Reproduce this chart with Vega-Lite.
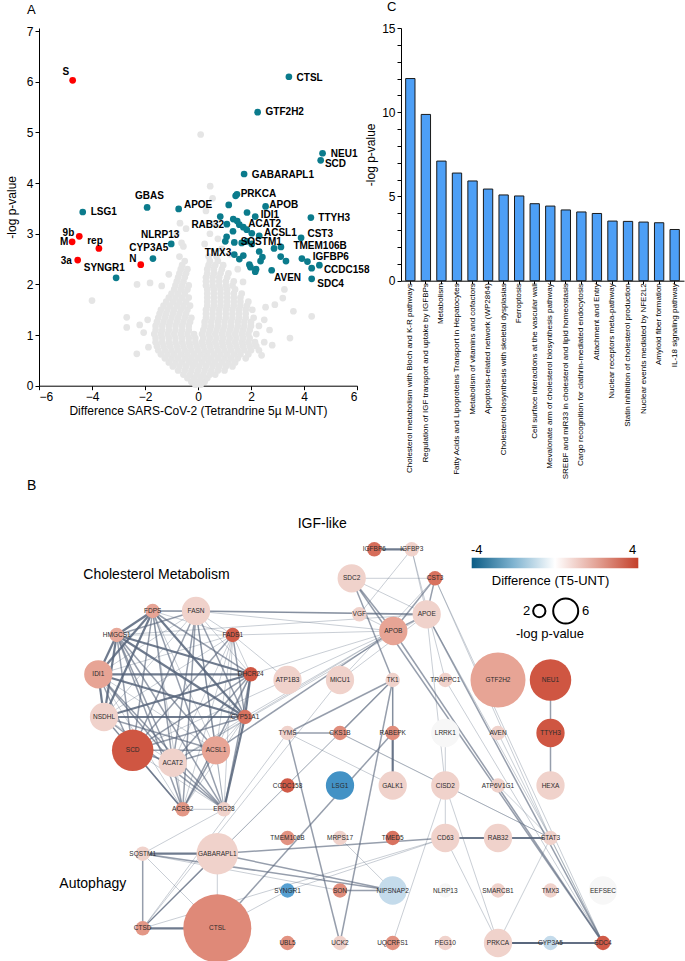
{
"$schema":"https://vega.github.io/schema/vega-lite/v6.json",
"padding":{"left":5,"top":1,"right":0,"bottom":0},
"background":"white",
"spacing":0,
"config":{"font":"Liberation Sans","view":{"stroke":null},
 "axis":{"domainColor":"#000","tickColor":"#000","labelColor":"#000","titleColor":"#000","labelFontSize":12,"titleFontSize":12,"titleFontWeight":"normal","tickSize":4,"grid":false,"labelPadding":2}},
"datasets":{
"ns":[
{"x":-0.1,"y":0.02},{"x":0.1,"y":0.02},
{"x":-0.25,"y":0.08},{"x":0,"y":0.08},{"x":0.25,"y":0.08},
{"x":-0.4,"y":0.15},{"x":-0.15,"y":0.15},{"x":0.1,"y":0.15},{"x":0.35,"y":0.15},
{"x":-0.55,"y":0.22},{"x":-0.3,"y":0.22},{"x":-0.05,"y":0.22},{"x":0.2,"y":0.22},{"x":0.45,"y":0.22},{"x":0.65,"y":0.22},
{"x":-0.75,"y":0.3},{"x":-0.5,"y":0.3},{"x":-0.25,"y":0.3},{"x":0,"y":0.3},{"x":0.25,"y":0.3},{"x":0.5,"y":0.3},{"x":0.75,"y":0.3},{"x":1.0,"y":0.3},
{"x":-0.95,"y":0.38},{"x":-0.7,"y":0.38},{"x":-0.45,"y":0.38},{"x":-0.2,"y":0.38},{"x":0.05,"y":0.38},{"x":0.3,"y":0.38},{"x":0.55,"y":0.38},{"x":0.8,"y":0.38},{"x":1.05,"y":0.38},{"x":1.3,"y":0.38},
{"x":-1.1,"y":0.46},{"x":-0.85,"y":0.46},{"x":-0.6,"y":0.46},{"x":-0.35,"y":0.46},{"x":-0.1,"y":0.46},{"x":0.15,"y":0.46},{"x":0.4,"y":0.46},{"x":0.65,"y":0.46},{"x":0.9,"y":0.46},{"x":1.15,"y":0.46},{"x":1.4,"y":0.46},
{"x":-1.25,"y":0.54},{"x":-1.0,"y":0.54},{"x":-0.75,"y":0.54},{"x":-0.5,"y":0.54},{"x":-0.25,"y":0.54},{"x":0,"y":0.54},{"x":0.25,"y":0.54},{"x":0.5,"y":0.54},{"x":0.75,"y":0.54},{"x":1.0,"y":0.54},{"x":1.25,"y":0.54},{"x":1.5,"y":0.54},{"x":1.8,"y":0.54},
{"x":-1.4,"y":0.62},{"x":-1.15,"y":0.62},{"x":-0.9,"y":0.62},{"x":-0.65,"y":0.62},{"x":-0.4,"y":0.62},{"x":-0.15,"y":0.62},{"x":0.1,"y":0.62},{"x":0.35,"y":0.62},{"x":0.6,"y":0.62},{"x":0.85,"y":0.62},{"x":1.1,"y":0.62},{"x":1.35,"y":0.62},{"x":1.6,"y":0.62},{"x":1.9,"y":0.62},
{"x":-1.5,"y":0.7},{"x":-1.25,"y":0.7},{"x":-1.0,"y":0.7},{"x":-0.75,"y":0.7},{"x":-0.5,"y":0.7},{"x":-0.25,"y":0.7},{"x":0,"y":0.7},{"x":0.25,"y":0.7},{"x":0.5,"y":0.7},{"x":0.75,"y":0.7},{"x":1.0,"y":0.7},{"x":1.25,"y":0.7},{"x":1.5,"y":0.7},{"x":1.75,"y":0.7},{"x":2.0,"y":0.7},{"x":2.3,"y":0.7},
{"x":-1.55,"y":0.78},{"x":-1.3,"y":0.78},{"x":-1.05,"y":0.78},{"x":-0.8,"y":0.78},{"x":-0.55,"y":0.78},{"x":-0.3,"y":0.78},{"x":-0.05,"y":0.78},{"x":0.2,"y":0.78},{"x":0.45,"y":0.78},{"x":0.7,"y":0.78},{"x":0.95,"y":0.78},{"x":1.2,"y":0.78},{"x":1.45,"y":0.78},{"x":1.7,"y":0.78},{"x":1.95,"y":0.78},{"x":2.2,"y":0.78},
{"x":-1.6,"y":0.86},{"x":-1.35,"y":0.86},{"x":-1.1,"y":0.86},{"x":-0.85,"y":0.86},{"x":-0.6,"y":0.86},{"x":-0.35,"y":0.86},{"x":-0.1,"y":0.86},{"x":0.15,"y":0.86},{"x":0.4,"y":0.86},{"x":0.65,"y":0.86},{"x":0.9,"y":0.86},{"x":1.15,"y":0.86},{"x":1.4,"y":0.86},{"x":1.65,"y":0.86},{"x":1.9,"y":0.86},{"x":2.15,"y":0.86},{"x":2.5,"y":0.86},
{"x":-1.6,"y":0.94},{"x":-1.35,"y":0.94},{"x":-1.1,"y":0.94},{"x":-0.85,"y":0.94},{"x":-0.6,"y":0.94},{"x":-0.35,"y":0.94},{"x":-0.1,"y":0.94},{"x":0.2,"y":0.94},{"x":0.45,"y":0.94},{"x":0.7,"y":0.94},{"x":0.95,"y":0.94},{"x":1.2,"y":0.94},{"x":1.45,"y":0.94},{"x":1.7,"y":0.94},{"x":1.95,"y":0.94},
{"x":-1.65,"y":1.02},{"x":-1.4,"y":1.02},{"x":-1.15,"y":1.02},{"x":-0.9,"y":1.02},{"x":-0.65,"y":1.02},{"x":-0.4,"y":1.02},{"x":-0.15,"y":1.02},{"x":0.15,"y":1.02},{"x":0.4,"y":1.02},{"x":0.65,"y":1.02},{"x":0.9,"y":1.02},{"x":1.15,"y":1.02},{"x":1.4,"y":1.02},{"x":1.65,"y":1.02},{"x":1.9,"y":1.02},{"x":2.2,"y":1.02},
{"x":-1.6,"y":1.1},{"x":-1.35,"y":1.1},{"x":-1.1,"y":1.1},{"x":-0.85,"y":1.1},{"x":-0.6,"y":1.1},{"x":-0.35,"y":1.1},{"x":0.2,"y":1.1},{"x":0.45,"y":1.1},{"x":0.7,"y":1.1},{"x":0.95,"y":1.1},{"x":1.2,"y":1.1},{"x":1.45,"y":1.1},{"x":1.7,"y":1.1},{"x":1.95,"y":1.1},
{"x":-1.6,"y":1.18},{"x":-1.35,"y":1.18},{"x":-1.1,"y":1.18},{"x":-0.85,"y":1.18},{"x":-0.6,"y":1.18},{"x":-0.35,"y":1.18},{"x":0.25,"y":1.18},{"x":0.5,"y":1.18},{"x":0.75,"y":1.18},{"x":1.0,"y":1.18},{"x":1.25,"y":1.18},{"x":1.5,"y":1.18},{"x":1.75,"y":1.18},{"x":2.0,"y":1.18},{"x":2.3,"y":1.18},
{"x":-1.55,"y":1.26},{"x":-1.3,"y":1.26},{"x":-1.05,"y":1.26},{"x":-0.8,"y":1.26},{"x":-0.55,"y":1.26},{"x":-0.3,"y":1.26},{"x":0.25,"y":1.26},{"x":0.5,"y":1.26},{"x":0.75,"y":1.26},{"x":1.0,"y":1.26},{"x":1.25,"y":1.26},{"x":1.5,"y":1.26},{"x":1.75,"y":1.26},{"x":2.0,"y":1.26},
{"x":-1.5,"y":1.34},{"x":-1.25,"y":1.34},{"x":-1.0,"y":1.34},{"x":-0.75,"y":1.34},{"x":-0.5,"y":1.34},{"x":-0.25,"y":1.34},{"x":0.3,"y":1.34},{"x":0.55,"y":1.34},{"x":0.8,"y":1.34},{"x":1.05,"y":1.34},{"x":1.3,"y":1.34},{"x":1.55,"y":1.34},{"x":1.8,"y":1.34},{"x":2.1,"y":1.34},
{"x":-1.45,"y":1.42},{"x":-1.2,"y":1.42},{"x":-0.95,"y":1.42},{"x":-0.7,"y":1.42},{"x":-0.45,"y":1.42},{"x":0.3,"y":1.42},{"x":0.55,"y":1.42},{"x":0.8,"y":1.42},{"x":1.05,"y":1.42},{"x":1.3,"y":1.42},{"x":1.55,"y":1.42},{"x":1.8,"y":1.42},
{"x":-1.4,"y":1.5},{"x":-1.15,"y":1.5},{"x":-0.9,"y":1.5},{"x":-0.65,"y":1.5},{"x":-0.4,"y":1.5},{"x":0.3,"y":1.5},{"x":0.55,"y":1.5},{"x":0.8,"y":1.5},{"x":1.05,"y":1.5},{"x":1.3,"y":1.5},{"x":1.55,"y":1.5},{"x":1.8,"y":1.5},{"x":2.05,"y":1.5},
{"x":-1.3,"y":1.58},{"x":-1.05,"y":1.58},{"x":-0.8,"y":1.58},{"x":-0.55,"y":1.58},{"x":-0.3,"y":1.58},{"x":0.35,"y":1.58},{"x":0.6,"y":1.58},{"x":0.85,"y":1.58},{"x":1.1,"y":1.58},{"x":1.35,"y":1.58},{"x":1.6,"y":1.58},{"x":1.85,"y":1.58},
{"x":-1.2,"y":1.66},{"x":-0.95,"y":1.66},{"x":-0.7,"y":1.66},{"x":-0.45,"y":1.66},{"x":0.35,"y":1.66},{"x":0.6,"y":1.66},{"x":0.85,"y":1.66},{"x":1.1,"y":1.66},{"x":1.35,"y":1.66},{"x":1.6,"y":1.66},{"x":1.9,"y":1.66},
{"x":-1.1,"y":1.74},{"x":-0.85,"y":1.74},{"x":-0.6,"y":1.74},{"x":-0.35,"y":1.74},{"x":0.35,"y":1.74},{"x":0.6,"y":1.74},{"x":0.85,"y":1.74},{"x":1.1,"y":1.74},{"x":1.35,"y":1.74},{"x":1.6,"y":1.74},
{"x":-1.0,"y":1.82},{"x":-0.75,"y":1.82},{"x":-0.5,"y":1.82},{"x":0.35,"y":1.82},{"x":0.6,"y":1.82},{"x":0.85,"y":1.82},{"x":1.1,"y":1.82},{"x":1.35,"y":1.82},{"x":1.65,"y":1.82},
{"x":-0.9,"y":1.9},{"x":-0.65,"y":1.9},{"x":-0.4,"y":1.9},{"x":0.35,"y":1.9},{"x":0.6,"y":1.9},{"x":0.85,"y":1.9},{"x":1.1,"y":1.9},{"x":1.4,"y":1.9},
{"x":-0.85,"y":1.98},{"x":-0.6,"y":1.98},{"x":-0.35,"y":1.98},{"x":0.3,"y":1.98},{"x":0.55,"y":1.98},{"x":0.8,"y":1.98},{"x":1.05,"y":1.98},{"x":1.3,"y":1.98},
{"x":-0.8,"y":2.06},{"x":-0.55,"y":2.06},{"x":0.3,"y":2.06},{"x":0.55,"y":2.06},{"x":0.8,"y":2.06},{"x":1.05,"y":2.06},{"x":1.35,"y":2.06},
{"x":-0.75,"y":2.14},{"x":-0.5,"y":2.14},{"x":0.3,"y":2.14},{"x":0.55,"y":2.14},{"x":0.8,"y":2.14},{"x":1.1,"y":2.14},
{"x":-0.7,"y":2.22},{"x":-0.45,"y":2.22},{"x":0.35,"y":2.22},{"x":0.6,"y":2.22},{"x":0.85,"y":2.22},{"x":1.15,"y":2.22},
{"x":-0.65,"y":2.3},{"x":-0.4,"y":2.3},{"x":0.35,"y":2.3},{"x":0.6,"y":2.3},{"x":0.9,"y":2.3},
{"x":-0.6,"y":2.38},{"x":0.4,"y":2.38},{"x":0.65,"y":2.38},{"x":0.95,"y":2.38},
{"x":-0.5,"y":2.46},{"x":0.45,"y":2.46},{"x":0.75,"y":2.46},
{"x":0.4,"y":2.55},{"x":0.7,"y":2.55},
{"x":-4.0,"y":1.68},{"x":-2.69,"y":1.35},{"x":-2.69,"y":1.15},{"x":-2.31,"y":0.63},{"x":-1.87,"y":0.76},{"x":-1.81,"y":2.03},{"x":-1.37,"y":1.97},{"x":-2.2,"y":1.2},{"x":-2.05,"y":1.05},{"x":-1.9,"y":1.3},
{"x":2.5,"y":1.3},{"x":2.7,"y":1.1},{"x":3.6,"y":1.47},{"x":4.29,"y":1.37},{"x":3.47,"y":0.94},{"x":3.26,"y":1.9},{"x":3.2,"y":1.73},{"x":2.8,"y":0.8},{"x":2.4,"y":0.6},{"x":2.9,"y":1.6},{"x":2.55,"y":1.55},
{"x":0.1,"y":4.96},{"x":0.46,"y":3.94},{"x":0.55,"y":3.7},{"x":0.3,"y":3.45},{"x":0.6,"y":3.2},{"x":0.45,"y":3.0},{"x":0.75,"y":2.9},{"x":0.25,"y":2.8},{"x":-0.55,"y":2.75},{"x":-0.45,"y":3.1},{"x":0.9,"y":2.7},{"x":-0.7,"y":2.55},{"x":1.2,"y":2.6},{"x":1.5,"y":2.3},{"x":1.7,"y":2.05},{"x":-1.1,"y":2.2},{"x":-2.3,"y":2.0},{"x":-0.68,"y":3.21},{"x":-0.8,"y":3.01},{"x":-0.62,"y":2.82}
],
"hits":[
{"x":1.42,"y":3.75,"cat":"host"},{"x":1.47,"y":3.78,"cat":"host"},{"x":-1.92,"y":3.52,"cat":"host"},{"x":-0.73,"y":3.49,"cat":"host"},{"x":2.55,"y":3.54,"cat":"host"},{"x":-4.35,"y":3.43,"cat":"host"},
{"x":1.16,"y":3.57,"cat":"host"},{"x":1.85,"y":3.42,"cat":"host"},{"x":2.16,"y":3.34,"cat":"host"},{"x":0.84,"y":3.34,"cat":"host"},{"x":4.26,"y":3.32,"cat":"host"},{"x":1.09,"y":3.19,"cat":"host"},
{"x":1.33,"y":3.29,"cat":"host"},{"x":1.48,"y":3.25,"cat":"host"},{"x":1.56,"y":3.18,"cat":"host"},{"x":1.71,"y":3.13,"cat":"host"},{"x":1.84,"y":3.08,"cat":"host"},{"x":1.32,"y":3.05,"cat":"host"},
{"x":2.03,"y":3.01,"cat":"host"},{"x":2.31,"y":2.96,"cat":"host"},{"x":1.08,"y":2.94,"cat":"host"},{"x":1.03,"y":2.85,"cat":"host"},{"x":1.37,"y":2.83,"cat":"host"},{"x":1.65,"y":2.82,"cat":"host"},
{"x":1.84,"y":2.85,"cat":"host"},{"x":2.03,"y":2.8,"cat":"host"},{"x":2.87,"y":2.71,"cat":"host"},{"x":3.13,"y":2.74,"cat":"host"},{"x":3.12,"y":2.55,"cat":"host"},{"x":3.32,"y":2.46,"cat":"host"},
{"x":1.37,"y":2.59,"cat":"host"},{"x":1.56,"y":2.5,"cat":"host"},{"x":1.71,"y":2.57,"cat":"host"},{"x":2.31,"y":2.65,"cat":"host"},{"x":2.36,"y":2.46,"cat":"host"},{"x":2.43,"y":2.54,"cat":"host"},
{"x":1.94,"y":2.39,"cat":"host"},{"x":1.98,"y":2.34,"cat":"host"},{"x":2.19,"y":2.3,"cat":"host"},{"x":2.16,"y":2.25,"cat":"host"},{"x":2.78,"y":2.28,"cat":"host"},{"x":3.89,"y":2.92,"cat":"host"},
{"x":3.92,"y":2.51,"cat":"host"},{"x":4.13,"y":2.45,"cat":"host"},{"x":4.58,"y":2.38,"cat":"host"},{"x":4.29,"y":2.32,"cat":"host"},{"x":4.29,"y":2.11,"cat":"host"},{"x":-1.01,"y":2.8,"cat":"host"},
{"x":-1.7,"y":2.51,"cat":"host"},{"x":-3.09,"y":2.13,"cat":"host"},{"x":3.43,"y":6.1,"cat":"host"},{"x":2.25,"y":5.4,"cat":"host"},{"x":4.7,"y":4.59,"cat":"host"},{"x":4.63,"y":4.45,"cat":"host"},
{"x":1.74,"y":4.18,"cat":"host"},
{"x":-4.73,"y":6.03,"cat":"virus"},{"x":-4.48,"y":2.95,"cat":"virus"},{"x":-4.75,"y":2.84,"cat":"virus"},{"x":-3.74,"y":2.71,"cat":"virus"},{"x":-4.54,"y":2.48,"cat":"virus"},{"x":-2.16,"y":2.39,"cat":"virus"}
],
"vlabels":[
{"name":"S","lx":-5.11,"ly":6.19},{"name":"CTSL","lx":3.72,"ly":6.08},{"name":"GTF2H2","lx":2.55,"ly":5.4},{"name":"NEU1","lx":5.01,"ly":4.57},{"name":"SCD","lx":4.79,"ly":4.38},
{"name":"GABARAPL1","lx":2.03,"ly":4.17},{"name":"PRKCA","lx":1.61,"ly":3.79},{"name":"GBAS","lx":-2.38,"ly":3.74},{"name":"APOE","lx":-0.53,"ly":3.56},{"name":"APOB","lx":2.69,"ly":3.57},
{"name":"LSG1","lx":-4.05,"ly":3.43},{"name":"IDI1","lx":2.37,"ly":3.38},{"name":"RAB32","lx":-0.25,"ly":3.17},{"name":"ACAT2","lx":1.9,"ly":3.2},{"name":"TTYH3","lx":4.54,"ly":3.31},
{"name":"ACSL1","lx":2.49,"ly":3.02},{"name":"CST3","lx":4.13,"ly":3.0},{"name":"9b","lx":-5.11,"ly":3.02},{"name":"M","lx":-5.21,"ly":2.83},{"name":"rep","lx":-4.18,"ly":2.86},
{"name":"NLRP13","lx":-2.15,"ly":2.98},{"name":"SQSTM1","lx":1.61,"ly":2.84},{"name":"CYP3A5","lx":-2.59,"ly":2.72},{"name":"TMEM106B","lx":3.6,"ly":2.75},{"name":"TMX3","lx":0.25,"ly":2.63},
{"name":"IGFBP6","lx":4.33,"ly":2.54},{"name":"3a","lx":-5.18,"ly":2.47},{"name":"N","lx":-2.59,"ly":2.51},{"name":"SYNGR1","lx":-4.31,"ly":2.32},{"name":"CCDC158","lx":4.75,"ly":2.28},
{"name":"AVEN","lx":2.87,"ly":2.13},{"name":"SDC4","lx":4.5,"ly":2.01}
],
"pathways":[
{"pathway":"Cholesterol metabolism with Bloch and K-R pathways","logp":12.0},
{"pathway":"Regulation of IGF transport and uptake by IGFBPs","logp":9.87},
{"pathway":"Metabolism","logp":7.1},
{"pathway":"Fatty Acids and Lipoproteins Transport in Hepatocytes","logp":6.39},
{"pathway":"Metabolism of vitamins and cofactors","logp":5.92},
{"pathway":"Apoptosis-related network (WP2864)","logp":5.44},
{"pathway":"Cholesterol biosynthesis with skeletal dysplasias","logp":5.09},
{"pathway":"Ferroptosis","logp":5.03},
{"pathway":"Cell surface interactions at the vascular wall","logp":4.57},
{"pathway":"Mevalonate arm of cholesterol biosynthesis pathway","logp":4.43},
{"pathway":"SREBF and miR33 in cholesterol and lipid homeostasis","logp":4.2},
{"pathway":"Cargo recognition for clathrin-mediated endocytosis","logp":4.08},
{"pathway":"Attachment and Entry","logp":3.99},
{"pathway":"Nuclear receptors meta-pathway","logp":3.54},
{"pathway":"Statin inhibition of cholesterol production","logp":3.52},
{"pathway":"Nuclear events mediated by NFE2L2","logp":3.48},
{"pathway":"Amyloid fiber formation","logp":3.44},
{"pathway":"IL-18 signaling pathway","logp":3.04}
],
"nodes":[
{"id":"FDPS","x":152.7,"y":610,"logp":2.5,"diff":1.9},
{"id":"FASN","x":196,"y":610,"logp":3.5,"diff":0.85},
{"id":"HMGCS1","x":116.7,"y":634,"logp":2.5,"diff":1.8},
{"id":"FADS1","x":232.7,"y":634,"logp":2.5,"diff":3.5},
{"id":"IDI1","x":98.3,"y":673.3,"logp":3.3,"diff":1.9},
{"id":"DHCR24","x":250.7,"y":673.3,"logp":2.6,"diff":3.6},
{"id":"NSDHL","x":104,"y":716,"logp":3.3,"diff":0.85},
{"id":"CYP51A1","x":245,"y":716,"logp":2.6,"diff":3.0},
{"id":"SCD","x":132.7,"y":749.3,"logp":4.45,"diff":3.6},
{"id":"ACSL1","x":216,"y":749.3,"logp":3.0,"diff":1.9},
{"id":"ACAT2","x":172.7,"y":761.7,"logp":3.1,"diff":0.85},
{"id":"ACSS2","x":182.7,"y":808.3,"logp":2.5,"diff":2.2},
{"id":"ERG28","x":224,"y":808.3,"logp":2.4,"diff":0.85},
{"id":"SQSTM1","x":142.7,"y":852.7,"logp":2.7,"diff":0.85},
{"id":"GABARAPL1","x":217.3,"y":852.7,"logp":4.17,"diff":0.85},
{"id":"CTSD","x":142.7,"y":927.3,"logp":2.5,"diff":2.2},
{"id":"CTSL","x":217.3,"y":927.3,"logp":6.1,"diff":2.5},
{"id":"IGFBP6","x":374.3,"y":548.3,"logp":2.5,"diff":3.1},
{"id":"IGFBP3","x":411.7,"y":548.3,"logp":2.4,"diff":0.85},
{"id":"SDC2","x":351.7,"y":577.3,"logp":3.2,"diff":0.85},
{"id":"CST3","x":435,"y":577.3,"logp":2.9,"diff":3.0},
{"id":"VGF","x":359.3,"y":613.3,"logp":2.3,"diff":0.85},
{"id":"APOE","x":426.7,"y":613.3,"logp":3.5,"diff":0.85},
{"id":"APOB","x":393.3,"y":630,"logp":3.55,"diff":1.9},
{"id":"ATP1B3","x":287.5,"y":679,"logp":3.2,"diff":0.85},
{"id":"MICU1","x":340,"y":679,"logp":3.2,"diff":0.85},
{"id":"TK1","x":392.7,"y":679,"logp":2.5,"diff":0.85},
{"id":"TRAPPC1","x":445.3,"y":679,"logp":2.4,"diff":0.85},
{"id":"GTF2H2","x":498,"y":679,"logp":5.4,"diff":1.9},
{"id":"NEU1","x":550.5,"y":679,"logp":4.6,"diff":3.6},
{"id":"TYMS","x":287.5,"y":732,"logp":2.4,"diff":0.85},
{"id":"CKS1B","x":340,"y":732,"logp":2.5,"diff":2.4},
{"id":"RABEPK","x":392.7,"y":732,"logp":2.5,"diff":2.4},
{"id":"LRRK1","x":445.3,"y":732,"logp":3.1,"diff":0},
{"id":"AVEN","x":498,"y":732,"logp":2.3,"diff":0.85},
{"id":"TTYH3","x":550.5,"y":732,"logp":3.3,"diff":3.6},
{"id":"CCDC158","x":287.5,"y":784.5,"logp":2.4,"diff":3.5},
{"id":"LSG1","x":340,"y":784.5,"logp":3.4,"diff":-2.3},
{"id":"GALK1","x":392.7,"y":784.5,"logp":3.1,"diff":0.85},
{"id":"CISD2","x":445.3,"y":784.5,"logp":3.2,"diff":0.85},
{"id":"ATP6V1G1","x":498,"y":784.5,"logp":2.5,"diff":0.85},
{"id":"HEXA","x":550.5,"y":784.5,"logp":3.1,"diff":0.85},
{"id":"TMEM106B","x":287.5,"y":837,"logp":2.7,"diff":2.3},
{"id":"MRPS17","x":340,"y":837,"logp":2.5,"diff":0.85},
{"id":"TMED5","x":392.7,"y":837,"logp":2.5,"diff":3.0},
{"id":"CD63","x":445.3,"y":837,"logp":3.2,"diff":0.85},
{"id":"RAB32","x":498,"y":837,"logp":3.2,"diff":0.85},
{"id":"STAT3","x":550.5,"y":837,"logp":2.5,"diff":0.85},
{"id":"SYNGR1","x":287.5,"y":889.5,"logp":2.1,"diff":-1.9},
{"id":"SON","x":340,"y":889.5,"logp":2.5,"diff":2.4},
{"id":"NIPSNAP2","x":392.7,"y":889.5,"logp":3.1,"diff":-0.6},
{"id":"NLRP13","x":445.3,"y":889.5,"logp":2.8,"diff":0},
{"id":"SMARCB1","x":498,"y":889.5,"logp":2.5,"diff":0.85},
{"id":"TMX3","x":550.5,"y":889.5,"logp":2.6,"diff":0.85},
{"id":"EEFSEC","x":603,"y":889.5,"logp":3.1,"diff":0},
{"id":"UBL5","x":287.5,"y":942,"logp":2.5,"diff":2.3},
{"id":"UCK2","x":340,"y":942,"logp":2.5,"diff":0.85},
{"id":"UQCRFS1","x":392.7,"y":942,"logp":2.5,"diff":2.3},
{"id":"PEG10","x":445.3,"y":942,"logp":2.4,"diff":0.85},
{"id":"PRKCA","x":498,"y":942,"logp":3.75,"diff":0.85},
{"id":"CYP3A5","x":550.5,"y":942,"logp":2.5,"diff":-0.6},
{"id":"SDC4","x":603,"y":942,"logp":2.1,"diff":3.5}
],
"edges":[
{"s":"FDPS","t":"HMGCS1","w":3},{"s":"FDPS","t":"IDI1","w":3},{"s":"FDPS","t":"DHCR24","w":2},{"s":"FDPS","t":"NSDHL","w":3},{"s":"FDPS","t":"CYP51A1","w":3},{"s":"FDPS","t":"ERG28","w":2},
{"s":"HMGCS1","t":"IDI1","w":3},{"s":"HMGCS1","t":"DHCR24","w":3},{"s":"HMGCS1","t":"NSDHL","w":3},{"s":"HMGCS1","t":"CYP51A1","w":3},{"s":"HMGCS1","t":"ERG28","w":2},
{"s":"IDI1","t":"DHCR24","w":3},{"s":"IDI1","t":"NSDHL","w":3},{"s":"IDI1","t":"CYP51A1","w":3},{"s":"IDI1","t":"ERG28","w":2},
{"s":"DHCR24","t":"NSDHL","w":3},{"s":"DHCR24","t":"CYP51A1","w":3},{"s":"DHCR24","t":"ERG28","w":2},{"s":"NSDHL","t":"CYP51A1","w":3},{"s":"NSDHL","t":"ERG28","w":2},{"s":"CYP51A1","t":"ERG28","w":3},
{"s":"FASN","t":"SCD","w":2},{"s":"FASN","t":"ACSL1","w":2},{"s":"FASN","t":"ACAT2","w":2},{"s":"FASN","t":"ACSS2","w":2},{"s":"FASN","t":"FADS1","w":1},
{"s":"SCD","t":"ACSL1","w":2},{"s":"SCD","t":"ACAT2","w":2},{"s":"SCD","t":"ACSS2","w":2},{"s":"SCD","t":"FADS1","w":2},
{"s":"ACSL1","t":"ACAT2","w":2},{"s":"ACSL1","t":"ACSS2","w":2},{"s":"ACSL1","t":"FADS1","w":1},{"s":"ACAT2","t":"ACSS2","w":2},{"s":"ACAT2","t":"FADS1","w":1},{"s":"ACSS2","t":"FADS1","w":1},
{"s":"FDPS","t":"FASN","w":2},{"s":"FDPS","t":"SCD","w":2},{"s":"FDPS","t":"ACSL1","w":1},{"s":"FDPS","t":"ACAT2","w":2},{"s":"FDPS","t":"ACSS2","w":1},{"s":"FDPS","t":"FADS1","w":1},
{"s":"HMGCS1","t":"FASN","w":2},{"s":"HMGCS1","t":"SCD","w":2},{"s":"HMGCS1","t":"ACSL1","w":2},{"s":"HMGCS1","t":"ACAT2","w":2},{"s":"HMGCS1","t":"ACSS2","w":2},{"s":"HMGCS1","t":"FADS1","w":1},
{"s":"IDI1","t":"FASN","w":1},{"s":"IDI1","t":"SCD","w":2},{"s":"IDI1","t":"ACSL1","w":1},{"s":"IDI1","t":"ACAT2","w":2},{"s":"IDI1","t":"ACSS2","w":1},{"s":"IDI1","t":"FADS1","w":1},
{"s":"DHCR24","t":"FASN","w":1},{"s":"DHCR24","t":"SCD","w":2},{"s":"DHCR24","t":"ACSL1","w":1},{"s":"DHCR24","t":"ACAT2","w":2},{"s":"DHCR24","t":"ACSS2","w":2},{"s":"DHCR24","t":"FADS1","w":1},
{"s":"NSDHL","t":"FASN","w":1},{"s":"NSDHL","t":"SCD","w":1},{"s":"NSDHL","t":"ACSL1","w":2},{"s":"NSDHL","t":"ACAT2","w":1},{"s":"NSDHL","t":"ACSS2","w":2},{"s":"NSDHL","t":"FADS1","w":1},
{"s":"CYP51A1","t":"FASN","w":2},{"s":"CYP51A1","t":"SCD","w":2},{"s":"CYP51A1","t":"ACSL1","w":1},{"s":"CYP51A1","t":"ACAT2","w":1},{"s":"CYP51A1","t":"ACSS2","w":1},{"s":"CYP51A1","t":"FADS1","w":2},
{"s":"ERG28","t":"FASN","w":1},{"s":"ERG28","t":"SCD","w":1},{"s":"ERG28","t":"ACSL1","w":1},{"s":"ERG28","t":"ACAT2","w":2},{"s":"ERG28","t":"ACSS2","w":1},{"s":"ERG28","t":"FADS1","w":1},
{"s":"IGFBP6","t":"IGFBP3","w":3},{"s":"IGFBP3","t":"VGF","w":1},{"s":"IGFBP3","t":"APOE","w":1},{"s":"IGFBP3","t":"TRAPPC1","w":1},
{"s":"SDC2","t":"APOB","w":2},{"s":"SDC2","t":"APOE","w":1},{"s":"SDC2","t":"TK1","w":2},{"s":"SDC2","t":"SDC4","w":2},{"s":"SDC2","t":"CST3","w":1},
{"s":"CST3","t":"APOB","w":2},{"s":"CST3","t":"APOE","w":2},{"s":"CST3","t":"SDC4","w":1},{"s":"CST3","t":"STAT3","w":1},{"s":"CST3","t":"MICU1","w":1},
{"s":"APOE","t":"APOB","w":2},{"s":"VGF","t":"APOB","w":1},{"s":"VGF","t":"APOE","w":1},
{"s":"APOB","t":"SDC4","w":2},{"s":"APOE","t":"SDC4","w":2},{"s":"APOE","t":"STAT3","w":1},{"s":"APOE","t":"CISD2","w":1},
{"s":"APOB","t":"DHCR24","w":1},{"s":"APOB","t":"ACSL1","w":2},{"s":"APOB","t":"SCD","w":1},{"s":"APOB","t":"CYP51A1","w":1},{"s":"APOB","t":"ACAT2","w":1},{"s":"APOB","t":"FADS1","w":1},{"s":"APOB","t":"FASN","w":1},
{"s":"APOE","t":"FASN","w":2},{"s":"APOE","t":"FDPS","w":1},{"s":"APOE","t":"ACAT2","w":1},{"s":"APOE","t":"MICU1","w":1},{"s":"APOE","t":"HMGCS1","w":1},
{"s":"FADS1","t":"ATP1B3","w":1},{"s":"MICU1","t":"CTSD","w":1},
{"s":"TK1","t":"TYMS","w":2},{"s":"TK1","t":"RABEPK","w":2},{"s":"TK1","t":"UCK2","w":2},{"s":"TK1","t":"CKS1B","w":2},{"s":"TK1","t":"GALK1","w":1},{"s":"TK1","t":"CTSD","w":1},
{"s":"TYMS","t":"CKS1B","w":2},{"s":"TYMS","t":"UCK2","w":2},{"s":"TYMS","t":"GALK1","w":1},{"s":"TYMS","t":"CTSD","w":1},
{"s":"CKS1B","t":"STAT3","w":1},{"s":"CKS1B","t":"CISD2","w":1},{"s":"CKS1B","t":"CTSD","w":1},{"s":"RABEPK","t":"GALK1","w":3},
{"s":"CISD2","t":"LRRK1","w":1},{"s":"CISD2","t":"CD63","w":1},{"s":"CISD2","t":"STAT3","w":1},{"s":"CISD2","t":"UQCRFS1","w":1},{"s":"CISD2","t":"PRKCA","w":1},
{"s":"CD63","t":"RAB32","w":3},{"s":"CD63","t":"STAT3","w":1},{"s":"CD63","t":"PRKCA","w":1},{"s":"CD63","t":"GABARAPL1","w":2},{"s":"CD63","t":"SYNGR1","w":1},{"s":"CD63","t":"CTSD","w":1},
{"s":"RAB32","t":"STAT3","w":3},{"s":"STAT3","t":"PRKCA","w":1},{"s":"STAT3","t":"SDC4","w":1},{"s":"ATP6V1G1","t":"STAT3","w":1},{"s":"AVEN","t":"SDC4","w":1},{"s":"TRAPPC1","t":"SDC4","w":1},
{"s":"PRKCA","t":"CYP3A5","w":3},{"s":"PRKCA","t":"SDC4","w":3},{"s":"CYP3A5","t":"SDC4","w":2},
{"s":"NEU1","t":"TTYH3","w":2},{"s":"TTYH3","t":"HEXA","w":2},
{"s":"SQSTM1","t":"GABARAPL1","w":3},{"s":"SQSTM1","t":"CTSD","w":2},{"s":"SQSTM1","t":"CTSL","w":1},{"s":"SQSTM1","t":"ERG28","w":1},{"s":"SQSTM1","t":"NIPSNAP2","w":2},{"s":"SQSTM1","t":"SON","w":1},
{"s":"GABARAPL1","t":"CTSL","w":1},{"s":"GABARAPL1","t":"CTSD","w":2},{"s":"GABARAPL1","t":"NIPSNAP2","w":2},
{"s":"CTSD","t":"CTSL","w":3},{"s":"CTSL","t":"SYNGR1","w":1},{"s":"CTSL","t":"RABEPK","w":2},
{"s":"SON","t":"NIPSNAP2","w":2},{"s":"MRPS17","t":"NIPSNAP2","w":1}
],
"btext":[
{"text":"B","x":27,"y":485,"role":"left"},
{"text":"IGF-like","x":297.7,"y":523,"role":"left"},
{"text":"Cholesterol Metabolism","x":83.3,"y":574,"role":"left"},
{"text":"Autophagy","x":59.3,"y":882.7,"role":"left"},
{"text":"-4","x":476.7,"y":549,"role":"center"},
{"text":"4","x":632.5,"y":549,"role":"center"},
{"text":"Difference (T5-UNT)","x":550.5,"y":580,"role":"center"},
{"text":"2","x":526.7,"y":610,"role":"center"},
{"text":"6","x":585.7,"y":610,"role":"center"},
{"text":"-log p-value","x":550,"y":632.7,"role":"center"}
],
"colorbar":[{"x":471.7,"x2":638.3,"y":556.7,"y2":567.3}],
"sizelegend":[{"x":539.3,"y":610,"logp":2},{"x":565.7,"y":610,"logp":6}]
},
"vconcat":[
{"hconcat":[
 {"width":318,"height":357.7,
  "title":{"text":"A","anchor":"start","frame":"group","dx":-12,"offset":8,"fontSize":13,"fontWeight":"normal"},
  "layer":[
   {"data":{"name":"ns"},"mark":{"type":"circle","size":45,"opacity":1,"color":"#e5e5e5"},
    "encoding":{"x":{"field":"x","type":"quantitative","scale":{"domain":[-6,6],"nice":false},"axis":{"values":[-6,-4,-2,0,2,4,6],"title":"Difference SARS-CoV-2 (Tetrandrine 5µ M-UNT)","titlePadding":3}},
     "y":{"field":"y","type":"quantitative","scale":{"domain":[0,7.063],"nice":false},"axis":{"values":[0,1,2,3,4,5,6,7],"title":"-log p-value","titleX":-28,"titleBaseline":"middle"}}}},
   {"data":{"name":"hits"},"mark":{"type":"circle","size":45,"opacity":1},
    "encoding":{"x":{"field":"x","type":"quantitative"},"y":{"field":"y","type":"quantitative"},
     "color":{"field":"cat","type":"nominal","scale":{"domain":["host","virus"],"range":["#0b7b8c","#fe0000"]},"legend":null}}},
   {"data":{"name":"vlabels"},"mark":{"type":"text","fontWeight":"bold","fontSize":10,"align":"left","baseline":"middle","color":"#000"},
    "encoding":{"x":{"field":"lx","type":"quantitative"},"y":{"field":"ly","type":"quantitative"},"text":{"field":"name"}}}
  ]},
 {"width":283,"height":252.7,
  "title":{"text":"C","anchor":"start","frame":"group","dx":-14,"offset":8,"fontSize":13,"fontWeight":"normal"},
  "data":{"name":"pathways"},
  "mark":{"type":"bar","fill":"#4d9ff6","stroke":"#1a1a1a","strokeWidth":1},
  "encoding":{"x":{"field":"pathway","type":"nominal","sort":null,"scale":{"paddingInner":0.4,"paddingOuter":0.3},"axis":{"title":null,"labelAngle":-90,"labelFontSize":8,"labelLimit":0,"labelPadding":-1,"tickSize":3}},
   "y":{"field":"logp","type":"quantitative","scale":{"domain":[0,15],"nice":false},"axis":{"title":"-log p-value","values":[0,1,2,3,4,5,6,7,8,9,10,11,12,13,14,15],"labelExpr":"datum.value % 5 === 0 ? datum.label : ''"}}}}
 ],"spacing":44,"bounds":"flush"},
{"width":646,"height":481,
 "layer":[
  {"data":{"name":"edges"},
   "transform":[{"lookup":"s","from":{"data":{"name":"nodes"},"key":"id","fields":["x","y"]},"as":["sx","sy"]},
                {"lookup":"t","from":{"data":{"name":"nodes"},"key":"id","fields":["x","y"]},"as":["tx","ty"]}],
   "mark":{"type":"rule","color":"#56647a"},
   "encoding":{"x":{"field":"sx","type":"quantitative","scale":{"domain":[39,685],"nice":false,"zero":false},"axis":null},
    "y":{"field":"sy","type":"quantitative","scale":{"domain":[480,961],"nice":false,"zero":false,"reverse":true},"axis":null},
    "x2":{"field":"tx"},"y2":{"field":"ty"},
    "strokeWidth":{"field":"w","type":"quantitative","scale":{"domain":[1,3],"range":[0.8,2.2]},"legend":null},
    "opacity":{"field":"w","type":"quantitative","scale":{"domain":[1,3],"range":[0.4,0.85]},"legend":null}}},
  {"data":{"name":"nodes"},"mark":{"type":"circle","opacity":1},
   "encoding":{"x":{"field":"x","type":"quantitative"},"y":{"field":"y","type":"quantitative"},
    "size":{"field":"logp","type":"quantitative","scale":{"type":"threshold","domain":[3,4,5,6],"range":[210,800,1722,3025,4624]},"legend":null},
    "color":{"field":"diff","type":"quantitative","scale":{"domain":[-4,-2,0,2,4],"range":["#0b5c85","#4d9bd0","#f7f7f7","#e6a090","#c9432e"],"interpolate":"rgb"},"legend":null}}},
  {"data":{"name":"nodes"},"mark":{"type":"text","fontSize":6.5,"color":"#2b2b2b","align":"center","baseline":"middle"},
   "encoding":{"x":{"field":"x","type":"quantitative"},"y":{"field":"y","type":"quantitative"},"text":{"field":"id"}}},
  {"data":{"name":"colorbar"},"mark":{"type":"rect","fill":{"gradient":"linear","x1":0,"y1":0,"x2":1,"y2":0,"stops":[{"offset":0,"color":"#0b5c85"},{"offset":0.25,"color":"#7fb3d0"},{"offset":0.5,"color":"#ffffff"},{"offset":0.75,"color":"#e3a396"},{"offset":1,"color":"#c4402a"}]}},
   "encoding":{"x":{"field":"x","type":"quantitative"},"x2":{"field":"x2"},"y":{"field":"y","type":"quantitative"},"y2":{"field":"y2"}}},
  {"data":{"name":"sizelegend"},"mark":{"type":"circle","filled":false,"stroke":"#000","strokeWidth":2,"opacity":1},
   "encoding":{"x":{"field":"x","type":"quantitative"},"y":{"field":"y","type":"quantitative"},
    "size":{"field":"logp","type":"quantitative","scale":{"type":"linear","domain":[2,6],"range":[151,625]},"legend":null}}},
  {"data":{"name":"btext"},"transform":[{"filter":"datum.role === 'left'"}],"mark":{"type":"text","fontSize":14,"align":"left","baseline":"middle","color":"#000"},
   "encoding":{"x":{"field":"x","type":"quantitative"},"y":{"field":"y","type":"quantitative"},"text":{"field":"text"}}},
  {"data":{"name":"btext"},"transform":[{"filter":"datum.role === 'center'"}],"mark":{"type":"text","fontSize":13,"align":"center","baseline":"middle","color":"#000"},
   "encoding":{"x":{"field":"x","type":"quantitative"},"y":{"field":"y","type":"quantitative"},"text":{"field":"text"}}}
 ],
 "resolve":{"scale":{"size":"independent"}}}
]
}
